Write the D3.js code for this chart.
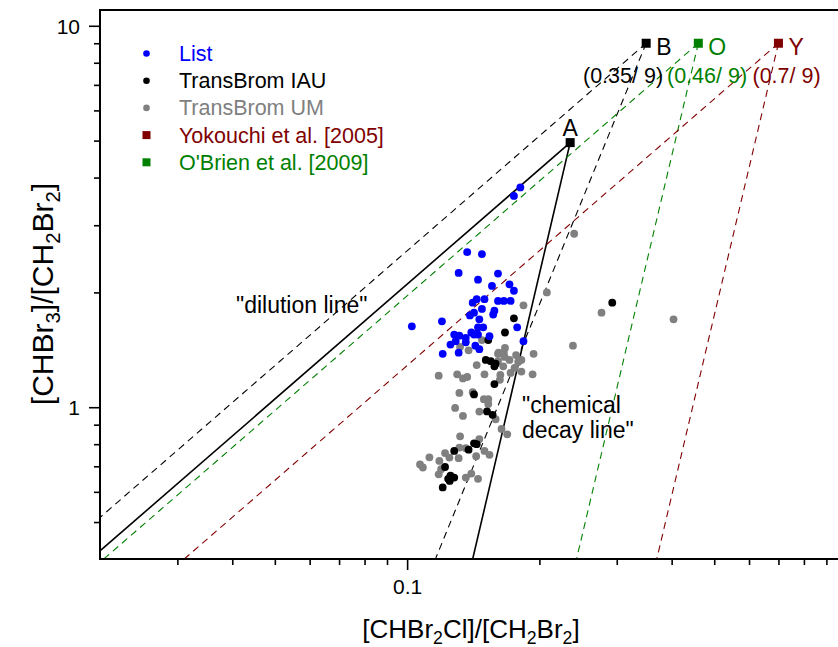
<!DOCTYPE html>
<html>
<head>
<meta charset="utf-8">
<script src="https://cdn.jsdelivr.net/npm/d3@7"></script>
<style>
  html, body { margin: 0; padding: 0; background: #fff; }
  svg { display: block; font-family: "Liberation Sans", Arial, sans-serif; }
</style>
</head>
<body>
<svg id="chart" width="838" height="647"></svg>
<script>
// ---------------- data ----------------
const listX = [0.181,0.175,0.137,0.148,0.131,0.161,0.145,0.156,0.171,0.175,0.144,0.150,0.141,0.161,0.166,0.172,0.148,0.158,0.142,0.157,0.139,0.146,0.1025,0.120,0.178,0.145,0.149,0.140,0.144,0.142,0.145,0.128,0.1315,0.136,0.154,0.1255,0.129,0.136,0.143,0.146,0.184,0.1205,0.131];
const listY = [3.77,3.58,2.55,2.52,2.25,2.24,2.16,2.08,2.10,2.02,1.92,1.92,1.88,1.90,1.90,1.90,1.81,1.79,1.77,1.75,1.74,1.70,1.63,1.68,1.62,1.62,1.62,1.57,1.56,1.55,1.55,1.55,1.54,1.52,1.535,1.46,1.49,1.48,1.45,1.42,1.49,1.38,1.39];

const iauX = [0.293,0.175,0.167,0.153,0.151,0.155,0.159,0.158,0.158,0.142,0.152,0.1565,0.142,0.144,0.138,0.128,0.122,0.1255,0.128,0.124,0.125,0.1205];
const iauY = [1.88,1.71,1.57,1.50,1.33,1.32,1.30,1.28,1.15,1.08,0.975,0.955,0.804,0.800,0.774,0.768,0.697,0.662,0.654,0.649,0.641,0.616];

const umX = [0.240,0.208,0.277,0.404,0.2385,0.194,0.184,0.148,0.132,0.138,0.1615,0.167,0.166,0.161,0.177,0.171,0.182,0.161,0.144,0.1655,0.172,0.182,0.193,0.118,0.130,0.134,0.137,0.150,0.163,0.1626,0.1315,0.141,0.153,0.1495,0.1286,0.134,0.146,0.153,0.159,0.164,0.169,0.132,0.146,0.1315,0.136,0.150,0.154,0.1436,0.122,0.1248,0.131,0.1124,0.107,0.1086,0.1184,0.118,0.136,0.140,0.145,0.1195,0.1756,0.1666,0.179];
const umY = [2.85,2.00,1.77,1.70,1.45,1.38,1.85,1.50,1.44,1.41,1.39,1.43,1.39,1.38,1.37,1.33,1.33,1.32,1.29,1.28,1.23,1.24,1.22,1.21,1.22,1.19,1.20,1.22,1.215,1.18,1.09,1.095,1.05,1.05,0.996,0.949,0.974,1.02,0.93,0.877,0.849,0.839,0.825,0.784,0.781,0.768,0.750,0.744,0.758,0.738,0.735,0.739,0.708,0.695,0.723,0.667,0.654,0.670,0.649,0.688,1.268,1.355,1.314];

// source points A, B, O, Y
const srcLabels = ["A", "B", "O", "Y"];
const srcX = [0.235, 0.35, 0.46, 0.7];
const srcY = [4.94, 9, 9, 9];
const srcCoordText = ["", "(0.35/ 9)", "(0.46/ 9)", "(0.7/ 9)"];
// dilution line lower ends
const dilX = [0.02, 0.02, 0.0204, 0.0311];
const dilY = [0.42, 0.514, 0.4, 0.4];
// chemical decay line lower ends
const decX = [0.141, 0.116, 0.243, 0.370];
const decY = [0.4, 0.4, 0.4, 0.4];

const xMajor = [0.1];
const xMinor = [0.03,0.04,0.05,0.06,0.07,0.08,0.09,0.2,0.3,0.4,0.5,0.6,0.7,0.8,0.9];
const yMajor = [1, 10];
const yMinor = [0.5,0.6,0.7,0.8,0.9,2,3,4,5,6,7,8,9];

const legendNames = ["List", "TransBrom IAU", "TransBrom UM", "Yokouchi et al. [2005]", "O'Brien et al. [2009]"];
const legendShapes = ["dot", "dot", "dot", "square", "square"];

// ---------------- styles ----------------
const C_LIST = "#0000ff", C_IAU = "#000000", C_UM = "#808080", C_Y = "#800000", C_O = "#008000";
const legendColors = [C_LIST, C_IAU, C_UM, C_Y, C_O];
const srcColors = ["#000000", "#000000", C_O, C_Y];
const srcDash = [null, "7,5", "7,5", "7,5"];
const srcWidth = [1.6, 1.1, 1.1, 1.1];

const svg = d3.select("#chart");
const L = 100, R = 846.5, T = 10, B = 559;
const x = d3.scaleLog().domain([0.02, 1]).range([L, R]);
const y = d3.scaleLog().domain([0.4, 11]).range([B, T]);

svg.append("defs").append("clipPath").attr("id", "plot")
  .append("rect").attr("x", L).attr("y", T).attr("width", R - L).attr("height", B - T);

const plot = svg.append("g").attr("clip-path", "url(#plot)");

// lines
srcX.forEach((sx, i) => {
  const line = d3.line().x(d => x(d[0])).y(d => y(d[1]));
  [[[sx, srcY[i]], [dilX[i], dilY[i]]], [[sx, srcY[i]], [decX[i], decY[i]]]].forEach(seg => {
    plot.append("path").attr("d", line(seg))
      .attr("fill", "none").attr("stroke", srcColors[i])
      .attr("stroke-width", srcWidth[i])
      .attr("stroke-dasharray", srcDash[i]);
  });
});

// points
function dots(xs, ys, color) {
  plot.append("g").selectAll("circle").data(xs.map((v, i) => [v, ys[i]])).join("circle")
    .attr("cx", d => x(d[0])).attr("cy", d => y(d[1])).attr("r", 3.9).attr("fill", color);
}
dots(umX, umY, C_UM);
dots(iauX, iauY, C_IAU);
dots(listX, listY, C_LIST);

// source squares
srcX.forEach((sx, i) => {
  svg.append("rect").attr("x", x(sx) - 4.5).attr("y", y(srcY[i]) - 4.5)
    .attr("width", 9).attr("height", 9).attr("fill", srcColors[i]);
});
// source labels
svg.append("text").attr("x", x(srcX[0])).attr("y", y(srcY[0]) - 7)
  .attr("text-anchor", "middle").attr("font-size", 23).text(srcLabels[0]);
for (let i = 1; i < 4; i++) {
  svg.append("text").attr("x", x(srcX[i]) + 10).attr("y", y(srcY[i]) + 12)
    .attr("font-size", 23).attr("fill", srcColors[i]).text(srcLabels[i]);
}
svg.append("text").attr("x", 583).attr("y", 83).attr("font-size", 21.5).attr("fill", srcColors[1]).text(srcCoordText[1]);
svg.append("text").attr("x", 667).attr("y", 83).attr("font-size", 21.5).attr("fill", srcColors[2]).text(srcCoordText[2]);
svg.append("text").attr("x", 752.5).attr("y", 83).attr("font-size", 21.5).attr("fill", srcColors[3]).text(srcCoordText[3]);

// annotations
svg.append("text").attr("x", 236).attr("y", 313).attr("font-size", 23).text('"dilution line"');
svg.append("text").attr("x", 522).attr("y", 413).attr("font-size", 23).text('"chemical');
svg.append("text").attr("x", 522).attr("y", 438).attr("font-size", 23).text('decay line"');

// axes
const axX1 = svg.append("g").attr("transform", `translate(0,${B})`)
  .call(d3.axisBottom(x).tickValues(xMajor).tickSize(11).tickPadding(9).tickFormat(d3.format(".1f")));
const axX2 = svg.append("g").attr("transform", `translate(0,${B})`)
  .call(d3.axisBottom(x).tickValues(xMinor).tickSize(6).tickFormat(""));
const axY1 = svg.append("g").attr("transform", `translate(${L},0)`)
  .call(d3.axisLeft(y).tickValues(yMajor).tickSize(11).tickPadding(9).tickFormat(d3.format("d")));
const axY2 = svg.append("g").attr("transform", `translate(${L},0)`)
  .call(d3.axisLeft(y).tickValues(yMinor).tickSize(6).tickFormat(""));
[axX1, axX2, axY1, axY2].forEach(a => {
  a.select(".domain").remove();
  a.selectAll(".tick line").attr("stroke", "#000").attr("stroke-width", 1.6);
  a.selectAll(".tick text").attr("font-size", 21).attr("font-family", "Liberation Sans, Arial, sans-serif").attr("fill", "#000");
});
axY1.selectAll(".tick text").attr("dy", "0.35em");

// frame
svg.append("line").attr("x1", L).attr("x2", L).attr("y1", T).attr("y2", B).attr("stroke", "#000").attr("stroke-width", 2);
svg.append("line").attr("x1", L - 1).attr("x2", 838).attr("y1", B).attr("y2", B).attr("stroke", "#000").attr("stroke-width", 2);
svg.append("line").attr("x1", L - 1).attr("x2", 838).attr("y1", T).attr("y2", T).attr("stroke", "#000").attr("stroke-width", 2);

// legend
legendNames.forEach((name, i) => {
  const cy = 53.5 + i * 27.2;
  if (legendShapes[i] === "dot") {
    svg.append("circle").attr("cx", 146.5).attr("cy", cy).attr("r", 3.3).attr("fill", legendColors[i]);
  } else {
    svg.append("rect").attr("x", 142.5).attr("y", cy - 4).attr("width", 8).attr("height", 8).attr("fill", legendColors[i]);
  }
  svg.append("text").attr("x", 179).attr("y", cy + 7.5).attr("font-size", 21.5)
    .attr("fill", legendColors[i]).text(name);
});

// axis titles with subscripts
function richText(sel, parts, size) {
  parts.forEach(p => {
    const sub = p[1];
    sel.append("tspan").attr("font-size", sub ? size * 0.68 : size)
      .attr("dy", sub ? size * 0.22 : (p[2] ? -size * 0.22 : 0)).text(p[0]);
  });
}
const xt = svg.append("text").attr("x", 471).attr("y", 638).attr("text-anchor", "middle").attr("font-size", 26);
richText(xt, [["[CHBr",0],["2",1],["Cl]/[CH",0,1],["2",1],["Br",0,1],["2",1],["]",0,1]], 26);
const yt = svg.append("text").attr("transform", "translate(53,294) rotate(-90)").attr("text-anchor", "middle").attr("font-size", 30);
richText(yt, [["[CHBr",0],["3",1],["]/[CH",0,1],["2",1],["Br",0,1],["2",1],["]",0,1]], 30);
</script>
</body>
</html>
